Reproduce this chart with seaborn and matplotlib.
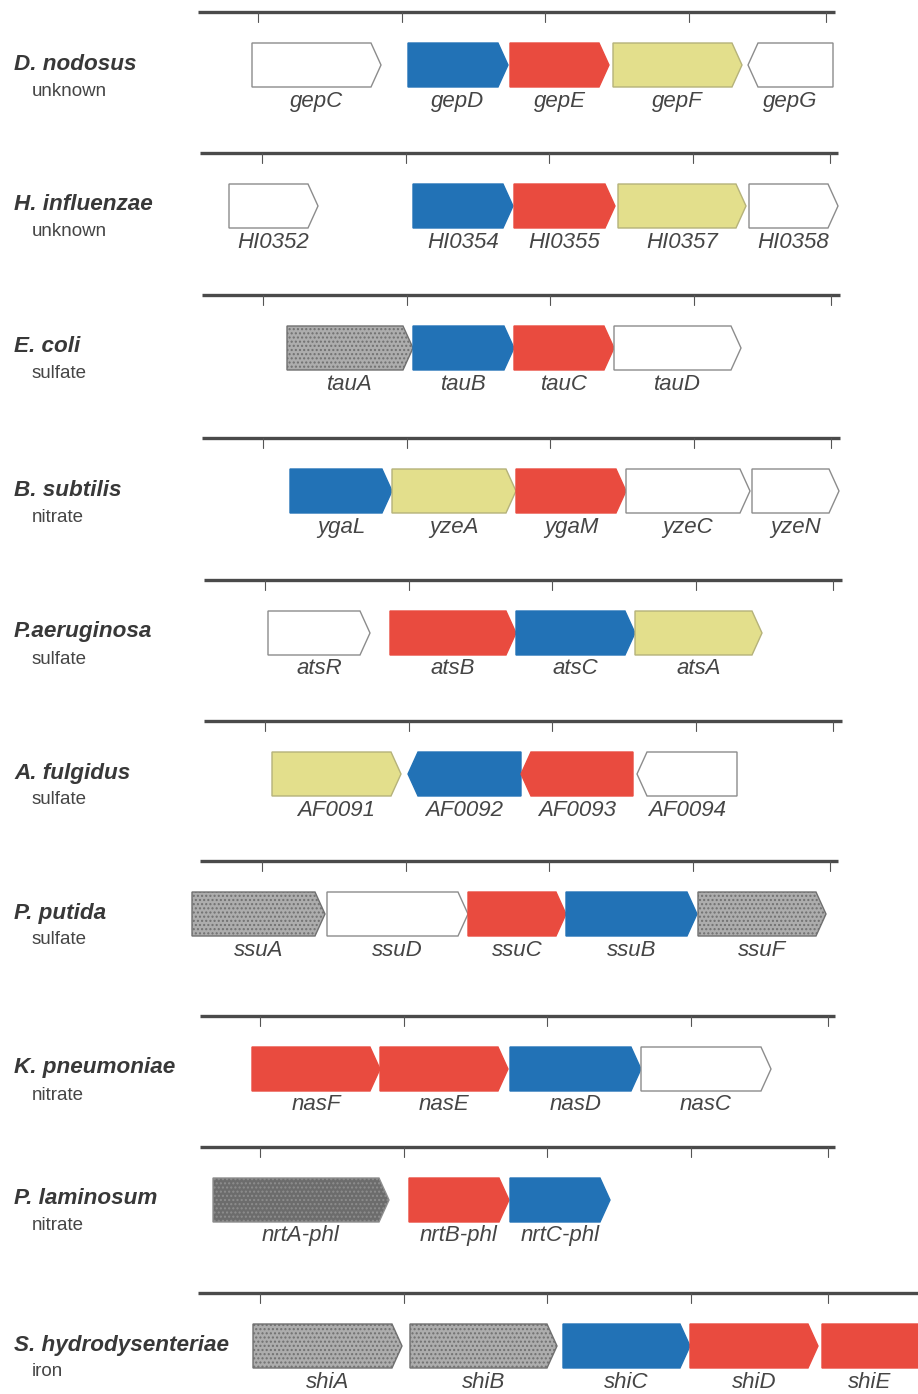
import matplotlib
matplotlib.use('Agg')
import matplotlib.pyplot as plt
import seaborn as sns

sns.set_theme(style='white')
plt.rcParams['font.family'] = ['Liberation Sans', 'DejaVu Sans']
plt.rcParams['hatch.linewidth'] = 1.0

# ---- data -----------------------------------------------------------------
species = ['D. nodosus', 'H. influenzae', 'E. coli', 'B. subtilis', 'P.aeruginosa',
           'A. fulgidus', 'P. putida', 'K. pneumoniae', 'P. laminosum',
           'S. hydrodysenteriae']
substrate = ['unknown', 'unknown', 'sulfate', 'nitrate', 'sulfate',
             'sulfate', 'sulfate', 'nitrate', 'nitrate', 'iron']

gene_names = [
    ['gepC', 'gepD', 'gepE', 'gepF', 'gepG'],
    ['HI0352', 'HI0354', 'HI0355', 'HI0357', 'HI0358'],
    ['tauA', 'tauB', 'tauC', 'tauD'],
    ['ygaL', 'yzeA', 'ygaM', 'yzeC', 'yzeN'],
    ['atsR', 'atsB', 'atsC', 'atsA'],
    ['AF0091', 'AF0092', 'AF0093', 'AF0094'],
    ['ssuA', 'ssuD', 'ssuC', 'ssuB', 'ssuF'],
    ['nasF', 'nasE', 'nasD', 'nasC'],
    ['nrtA-phl', 'nrtB-phl', 'nrtC-phl'],
    ['shiA', 'shiB', 'shiC', 'shiD', 'shiE'],
]
gene_start = [
    [252, 408, 510, 613, 748],
    [229, 413, 514, 618, 749],
    [287, 413, 514, 614],
    [290, 392, 516, 626, 752],
    [268, 390, 516, 635],
    [272, 408, 521, 637],
    [192, 327, 468, 566, 698],
    [252, 380, 510, 641],
    [213, 409, 510],
    [253, 410, 563, 690, 822],
]
gene_end = [
    [381, 508, 609, 742, 833],
    [318, 513, 615, 746, 838],
    [413, 514, 614, 741],
    [392, 516, 626, 750, 839],
    [370, 516, 635, 762],
    [401, 521, 633, 737],
    [325, 468, 566, 697, 826],
    [380, 508, 641, 771],
    [389, 509, 610],
    [402, 557, 690, 818, 930],
]
# +1 forward, -1 reverse
gene_strand = [
    [1, 1, 1, 1, -1],
    [1, 1, 1, 1, 1],
    [1, 1, 1, 1],
    [1, 1, 1, 1, 1],
    [1, 1, 1, 1],
    [1, -1, -1, -1],
    [1, 1, 1, 1, 1],
    [1, 1, 1, 1],
    [1, 1, 1],
    [1, 1, 1, 1, 1],
]
# gene class -> colour
gene_type = [
    ['other', 'atpase', 'permease', 'binding', 'other'],
    ['other', 'atpase', 'permease', 'binding', 'other'],
    ['periplasmic', 'atpase', 'permease', 'other'],
    ['atpase', 'binding', 'permease', 'other', 'other'],
    ['other', 'permease', 'atpase', 'binding'],
    ['binding', 'atpase', 'permease', 'other'],
    ['periplasmic', 'other', 'permease', 'atpase', 'periplasmic'],
    ['permease', 'permease', 'atpase', 'other'],
    ['dark', 'permease', 'atpase'],
    ['periplasmic', 'periplasmic', 'atpase', 'permease', 'permease'],
]
tick_pos = [261, 405, 548, 692, 829]

# ---- layout ---------------------------------------------------------------
ruler_y = [12, 153, 295, 438, 580, 721, 861, 1016, 1147, 1293]
ruler_x0 = [198, 200, 202, 202, 204, 204, 200, 200, 200, 198]
ruler_x1 = [835, 838, 840, 840, 842, 842, 838, 835, 835, 918]
tick_shift = [-3, 1, 2, 2, 4, 4, 1, -1, -1, -1]
gene_h = 44
head = 10

pal = sns.color_palette(['#2272b6', '#e94b3f', '#e3df8c', '#ffffff', '#adadad', '#6c6c6c'])
style = {
    'atpase': dict(fc=pal[0], ec=pal[0], hatch=None),
    'permease': dict(fc=pal[1], ec=pal[1], hatch=None),
    'binding': dict(fc=pal[2], ec='#b5b27a', hatch=None),
    'other': dict(fc=pal[3], ec='#8c8c8c', hatch=None),
    'periplasmic': dict(fc=pal[4], ec='#707070', hatch='....'),
    'dark': dict(fc=pal[5], ec='#8e8e8e', hatch='....'),
}

fig = plt.figure(figsize=(9.18, 13.94), dpi=100)
ax = fig.add_axes([0, 0, 1, 1])
ax.set_xlim(0, 918)
ax.set_ylim(1394, 0)
ax.axis('off')

for i in range(len(species)):
    ry = ruler_y[i]
    # scale ruler
    ax.plot([ruler_x0[i], ruler_x1[i]], [ry, ry], color='#4a4a4a', lw=2.4,
            solid_capstyle='butt', zorder=2)
    for t in tick_pos:
        ax.plot([t + tick_shift[i]] * 2, [ry, ry + 10], color='#555555', lw=0.8, zorder=2)

    top = ry + 31
    bot = top + gene_h
    mid = (top + bot) / 2

    for name, s, e, d, g in zip(gene_names[i], gene_start[i], gene_end[i],
                                gene_strand[i], gene_type[i]):
        if d > 0:
            xs = [s, e - head, e, e - head, s]
        else:
            xs = [e, s + head, s, s + head, e]
        ys = [top, top, mid, bot, bot]
        st = style[g]
        ax.fill(xs, ys, facecolor=st['fc'], edgecolor=st['ec'], hatch=st['hatch'],
                lw=1.0, zorder=3)
        ax.text((s + min(e, 918)) / 2, bot + 14, name, ha='center', va='center',
                fontsize=16, style='italic', color='#454545', zorder=4)

    ax.text(14, mid - 1, species[i], ha='left', va='center', fontsize=16.2,
            fontweight='bold', style='italic', color='#383838')
    ax.text(32, mid + 26, substrate[i], ha='left', va='center', fontsize=13.5,
            color='#454545')

fig.savefig('out.png', dpi=100, facecolor='white')
